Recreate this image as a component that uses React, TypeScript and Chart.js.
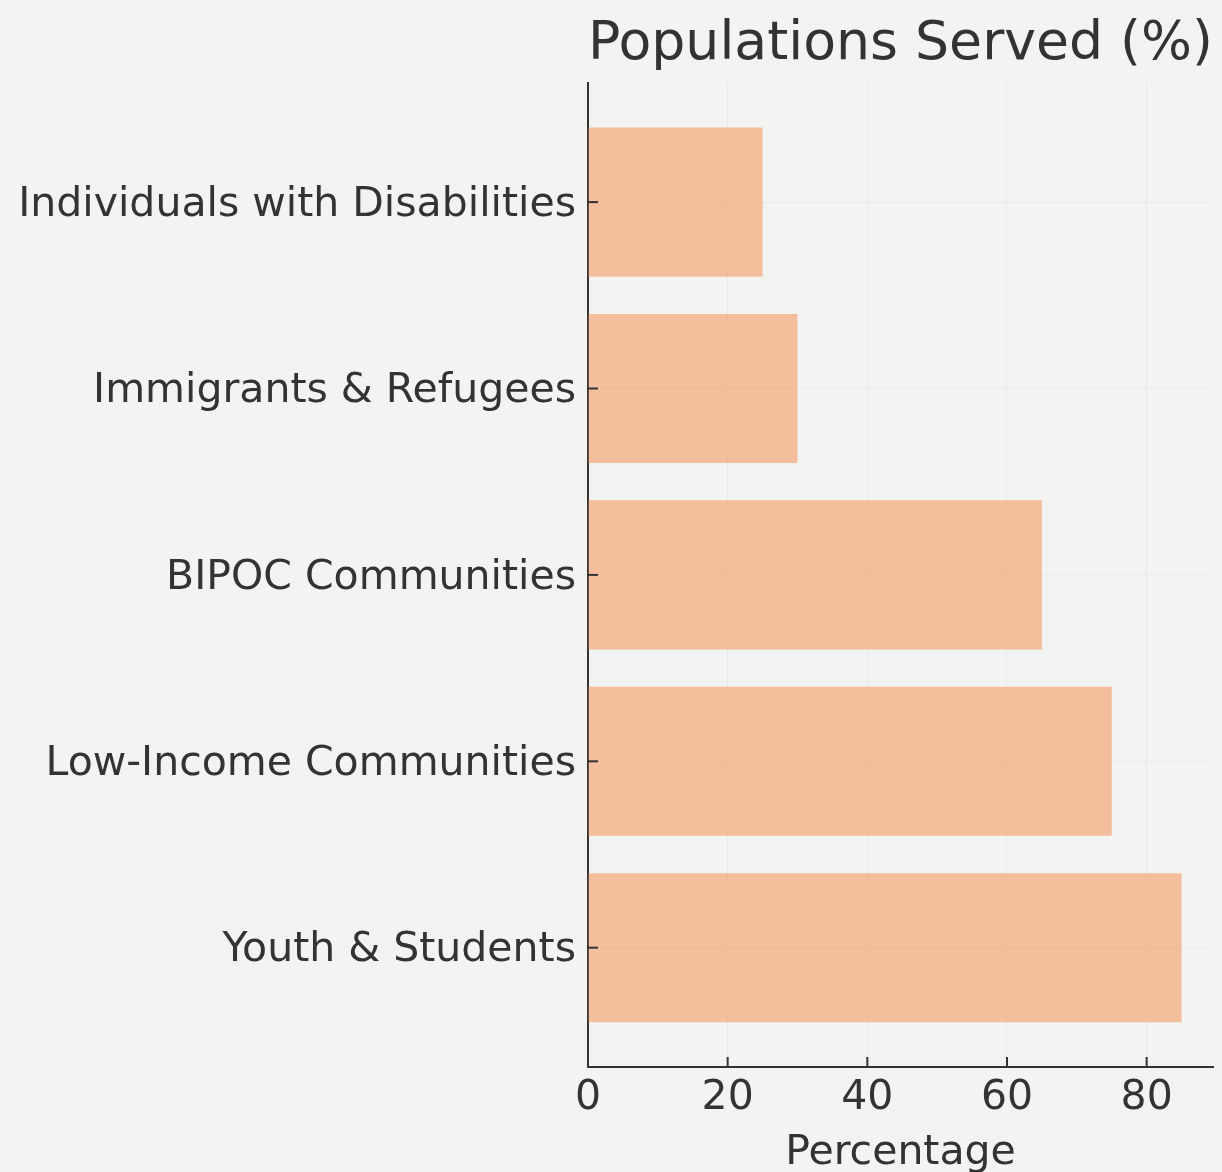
import React, { useEffect, useRef } from "react";
import { Chart, registerables } from "chart.js";

Chart.register(...registerables);

// Categories listed bottom-to-top (as drawn on the y axis)
const categories = [
  "Youth & Students",
  "Low-Income Communities",
  "BIPOC Communities",
  "Immigrants & Refugees",
  "Individuals with Disabilities",
];
const values = [85, 75, 65, 30, 25];
const xTickValues = [0, 20, 40, 60, 80];
const chartTitle = "Populations Served (%)";
const xAxisTitle = "Percentage";

const FONT = "'DejaVu Sans', Verdana, sans-serif";
const TEXT = "#333333";

export default function App() {
  const ref = useRef<HTMLCanvasElement>(null);

  useEffect(() => {
    if (!ref.current) return;

    const bgPlugin = {
      id: "bgPlugin",
      beforeDraw(c: any) {
        const { ctx, width, height } = c;
        ctx.save();
        ctx.fillStyle = "#f3f3f2";
        ctx.fillRect(0, 0, width, height);
        ctx.restore();
      },
    };

    const inwardTicks = {
      id: "inwardTicks",
      afterDatasetsDraw(c: any) {
        const { ctx, chartArea, scales } = c;
        ctx.save();
        ctx.strokeStyle = TEXT;
        ctx.lineWidth = 2;
        for (const t of scales.x.ticks) {
          const px = scales.x.getPixelForValue(t.value);
          ctx.beginPath();
          ctx.moveTo(px, chartArea.bottom);
          ctx.lineTo(px, chartArea.bottom - 10);
          ctx.stroke();
        }
        for (const t of scales.y.ticks) {
          const py = scales.y.getPixelForValue(t.value);
          ctx.beginPath();
          ctx.moveTo(chartArea.left, py);
          ctx.lineTo(chartArea.left + 10, py);
          ctx.stroke();
        }
        ctx.restore();
      },
    };

    const chart = new Chart(ref.current, {
      type: "bar",
      data: {
        datasets: [
          {
            data: categories.map((_, i) => ({ x: values[i], y: i })),
            backgroundColor: "rgba(242,155,98,0.6)",
            borderWidth: 0,
            categoryPercentage: 1,
            barPercentage: 0.8,
          },
        ],
      },
      options: {
        indexAxis: "y",
        responsive: true,
        maintainAspectRatio: false,
        animation: false,
        layout: { padding: { left: 0, right: 9, top: 0, bottom: 0 } },
        plugins: {
          legend: { display: false },
          tooltip: { enabled: false },
          title: {
            display: true,
            text: chartTitle,
            fullSize: false,
            color: TEXT,
            font: { family: FONT, size: 54, weight: "normal" },
            padding: { top: 13, bottom: 5 },
          },
        },
        scales: {
          x: {
            type: "linear",
            min: 0,
            max: 89.5,
            afterBuildTicks: (s: any) => {
              s.ticks = xTickValues.map((v) => ({ value: v }));
            },
            afterFit: (s: any) => {
              s.height = 105;
            },
            grid: { color: "rgba(0,0,0,0.04)", drawTicks: false },
            border: { display: true, color: TEXT, width: 2 },
            ticks: {
              padding: 7,
              color: TEXT,
              font: { family: FONT, size: 41 },
              maxRotation: 0,
            },
            title: {
              display: true,
              text: xAxisTitle,
              color: TEXT,
              font: { family: FONT, size: 41 },
              padding: { top: 0, bottom: -6 },
            },
          },
          y: {
            type: "linear",
            min: -0.64,
            max: 4.64,
            offset: false,
            afterBuildTicks: (s: any) => {
              s.ticks = categories.map((_, i) => ({ value: i }));
            },
            afterFit: (s: any) => {
              s.width = 588;
            },
            grid: { color: "rgba(0,0,0,0.04)", drawTicks: false, offset: false },
            border: { display: true, color: TEXT, width: 2 },
            ticks: {
              padding: 12,
              labelOffset: 3,
              color: TEXT,
              font: { family: FONT, size: 41 },
              callback: (v: any) => categories[v as number] ?? "",
            },
          },
        },
      } as any,
      plugins: [bgPlugin, inwardTicks],
    });

    return () => chart.destroy();
  }, []);

  return (
    <div style={{ position: "fixed", left: 0, top: 0, width: 1222, height: 1172 }}>
      <canvas ref={ref} />
    </div>
  );
}
